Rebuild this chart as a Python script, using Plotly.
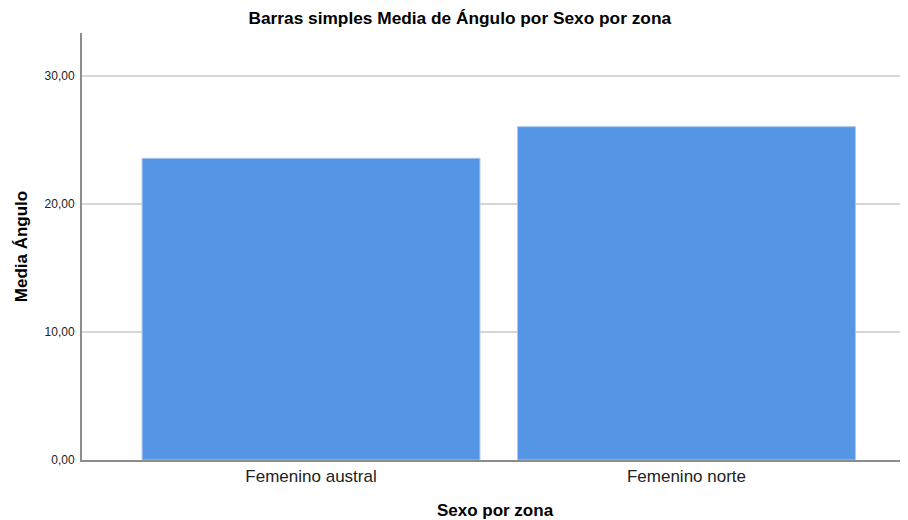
import plotly.graph_objects as go

# datos
categorias = ["Femenino austral", "Femenino norte"]
medias = [23.57, 26.04]
ticks_y = [0, 10, 20, 30]

fig = go.Figure()

fig.add_trace(go.Bar(
    x=categorias,
    y=medias,
    width=0.9,
    marker=dict(color="#5595e5", line=dict(color="#a9c8f0", width=1)),
    showlegend=False,
))

# la página html añade 8px de margen, por eso 900x512
fig.update_layout(
    width=900,
    height=512,
    margin=dict(l=74, r=0, t=25, b=60),
    paper_bgcolor="white",
    plot_bgcolor="white",
    separators=",.",
    font=dict(family="Liberation Sans, Arial, sans-serif", color="#1a1a1a"),
    title=dict(
        text="<b>Barras simples Media de Ángulo por Sexo por zona</b>",
        x=0.502, xanchor="center", y=0.98, yanchor="middle",
        font=dict(size=17.3, color="#000000"),
    ),
    xaxis=dict(
        range=[-0.61, 1.59],
        automargin=False,
        showline=True, linecolor="#8c8c8c", linewidth=2,
        ticks="", showgrid=False,
        tickfont=dict(size=17, color="#222222"),
        title=dict(text="<b>Sexo por zona</b>", font=dict(size=17, color="#000000"), standoff=29),
    ),
    yaxis=dict(
        range=[0, 33.36],
        automargin=False,
        tickvals=ticks_y,
        tickformat=".2f",
        showline=True, linecolor="#8c8c8c", linewidth=2,
        showgrid=True, gridcolor="#d6d6d6", gridwidth=2,
        zeroline=False,
        ticks="", ticklabelstandoff=3,
        tickfont=dict(size=12, color="#222222"),
        title=dict(text="<b>Media Ángulo</b>", font=dict(size=17, color="#000000"), standoff=13),
    ),
)

fig.write_html("out.html")
